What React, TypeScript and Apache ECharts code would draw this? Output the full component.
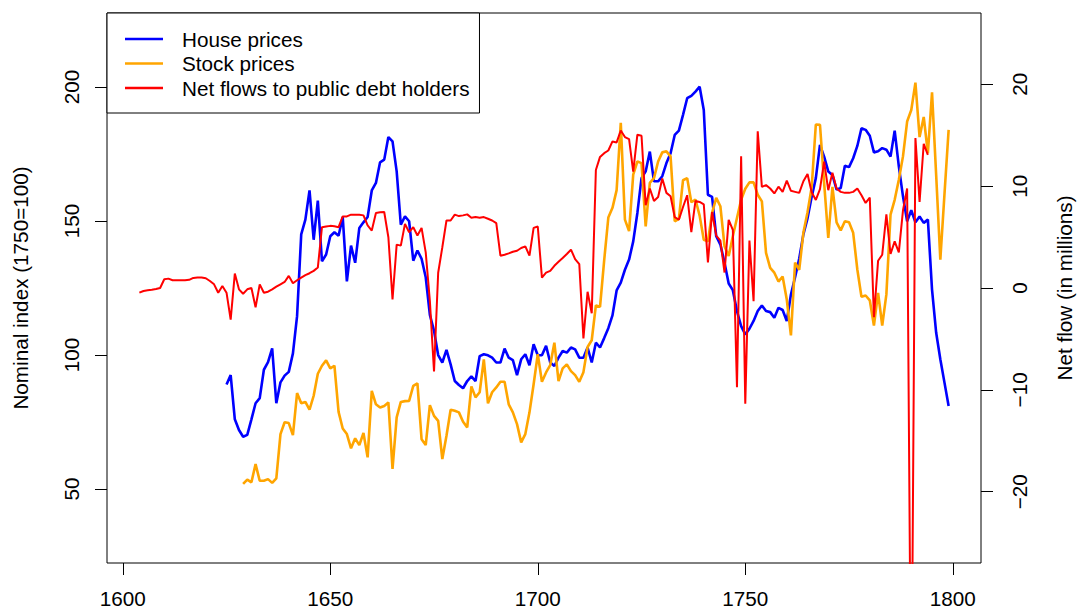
import React, { useEffect, useRef } from "react";
import * as echarts from "echarts";

const houseStart = 1625;
const housePrices = [
  89, 92.5, 76, 72, 69.5, 70.2, 76, 82, 83.9, 94.5,
  97.3, 102.5, 82, 89.8, 92.3, 93.7, 100.6, 114.5, 145, 150.5,
  161.4, 143, 157.6, 135, 137.5, 144.3, 145.8, 144.5, 151.5, 127.5,
  140.8, 134.4, 147.4, 149.5, 151.5, 161.4, 164.2, 171.9, 172.9, 181.3,
  179.7, 168.5, 148.6, 151.7, 149.9, 135.2, 139, 135.9, 129, 115,
  109, 100, 97.2, 101.9, 96.5, 90.3, 88.8, 87.6, 90.3, 92,
  90.3, 99.6, 100.3, 99.9, 99, 97.2, 97.2, 102.4, 99, 98.1,
  92.5, 98.4, 100.3, 96.2, 104, 99.9, 99.9, 103.4, 97.2, 95.9,
  99, 101.5, 100.9, 102.8, 102.1, 99, 99, 102.8, 97.2, 104.6,
  102.8, 106.3, 110, 114.8, 124.1, 127, 131.8, 135.6, 142.4, 153,
  166, 168.5, 175.9, 164.8, 164.8, 166.7, 171.6, 175.3, 182.1, 183.7,
  189.6, 195.8, 196.7, 198.3, 200.1, 191.4, 159.8, 159, 144.3, 141.2,
  134.4, 126.7, 124.2, 116.4, 110.8, 107.7, 109.8, 112.7, 116.4, 118.5,
  116.4, 116, 113.9, 117.6, 116.8, 112.7, 122.6, 129, 136, 145,
  151, 159, 166, 178.4, 174, 168.5, 167.2, 161.7, 162.3, 170.6,
  170.1, 173.4, 178, 184.6, 184, 181.8, 175.6, 176, 177.2, 176.6,
  174, 183.7, 170.4, 159.2, 149.9, 154, 149.5, 151.7, 149.3, 150.5,
  124.4, 108.3, 98.4, 89.7, 81,
];

const stockStart = 1629;
const stockPrices = [
  51.9, 53.5, 52.5, 59.3, 53.1, 53.1, 53.7, 52.3, 54, 70.5,
  74.9, 74.6, 70.1, 85.8, 82, 82.5, 79.6, 84.8, 93, 96,
  98, 95, 96, 78.8, 72.6, 70.5, 65.2, 68.9, 66.4, 70.9,
  61.8, 86.6, 81.6, 80.4, 81, 82.3, 57.5, 76.7, 82.5, 82.8,
  82.9, 88.5, 89.4, 68.6, 66.4, 81.3, 77.3, 75.4, 61.2, 69.9,
  79.6, 79.2, 78.6, 75.1, 73, 88.3, 84.2, 86.1, 98.4, 82,
  86.1, 87.9, 90, 90, 81.6, 78.6, 74.2, 67.4, 70.5, 78.6,
  89.1, 100.3, 90, 93.5, 96.2, 104.6, 90.3, 95, 96.5, 94,
  92.5, 90, 93.6, 103, 105.5, 118.5, 118, 135.3, 151.3, 154.9,
  161.5, 186.6, 150.5, 146.2, 167.3, 172.2, 171.6, 148, 164.2, 166,
  172.2, 175.6, 176, 174.1, 149.9, 150.8, 165.2, 166, 157, 158,
  152, 143, 142.4, 153, 158.6, 155.5, 140.6, 136.9, 144.3, 151.1,
  157.9, 162, 164.4, 164.4, 159.8, 157.3, 138.1, 132.5, 130.7, 127.4,
  129.3, 120.7, 107.3, 134.5, 131.8, 145.6, 153.3, 162.6, 186, 185.9,
  164.2, 143.7, 162.7, 149.5, 146.5, 149.9, 149.5, 145.6, 131.9, 121.7,
  122.2, 120.4, 111, 123.2, 111, 122.6, 152.4, 157.9, 165.4, 174.1,
  187.1, 191.4, 201.6, 181.3, 188.8, 175.3, 198, 167, 135.6, 160,
  184,
];

const flowStart = 1604;
const netFlows = [
  -0.46, -0.3, -0.23, -0.17, -0.1, 0, 0.86, 0.92, 0.76, 0.76,
  0.76, 0.76, 0.8, 0.99, 1.02, 1.02, 0.96, 0.69, 0.36, -0.46,
  0.2, -0.46, -3.1, 1.42, -0.13, -0.56, -0.13, 0, -1.9, 0.36,
  -0.46, -0.36, -0.13, 0.13, 0.36, 0.59, 1.19, 0.46, 0.76, 1.02,
  1.26, 1.45, 1.68, 2.01, 5.97, 6.04, 6.1, 6.07, 5.97, 7.03,
  7.03, 7.2, 7.2, 7.2, 7.13, 6.14, 5.64, 7.36, 7.43, 7.46,
  4.98, -1.12, 4.26, 4.16, 6.3, 5.48, 5.97, 5.15, 5.9, 3.5,
  -1.29, -8.2, 1.5, 4, 6.63, 6.63, 7.2, 7.06, 7.13, 7.23,
  6.9, 6.96, 6.9, 6.96, 6.8, 6.63, 6.37, 3.17, 3.27, 3.4,
  3.56, 3.66, 3.93, 4.09, 3.17, 5.9, 6.04, 1.02, 1.51, 1.68,
  2.18, 2.57, 2.94, 3.34, 3.76, 2.84, 2.35, -4.95, -0.37, -2.48,
  11.58, 12.87, 13.24, 13.5, 14.39, 14.29, 15.46, 14.82, 14.62, 11.42,
  15.05, 14.95, 8.12, 9.77, 8.55, 8.94, 10.76, 9.34, 9.01, 6.96,
  6.7, 7.95, 9.11, 5.48, 8.55, 8.45, 8.22, 2.5, 7.46, 5.15,
  4.65, 1.52, 6.7, 5.71, -9.75, 12.93, -11.36, 4.65, -1.29, 15.38,
  9.93, 10.1, 9.77, 9.28, 9.95, 9.44, 10.55, 9.54, 9.44, 9.34,
  10.48, 11.19, 9.4, 8.65, 9.7, 12.41, 9.6, 11.32, 9.77, 9.44,
  9.34, 9.34, 9.44, 9.77, 9.11, 8.35, 8.88, -2.87, 2.67, 3.27,
  7.23, 3.34, 4.58, 3.5, 7.62, 9.77, -45, 14.72, 8.45, 14.16,
  13.07,
];

const xTicks = [1600, 1650, 1700, 1750, 1800];
const leftTicks = [50, 100, 150, 200];
const rightTicks = [-20, -10, 0, 10, 20];

const seriesNames = ["House prices", "Stock prices", "Net flows to public debt holders"];
const seriesColors = ["#0000FF", "#FFA500", "#FF0000"];

const FONT = "'Liberation Sans', Arial, Helvetica, sans-serif";
const FS = 20.7;

function toPairs(start: number, values: number[]) {
  return values.map((v, i) => [start + i, v]);
}

export default function App() {
  const ref = useRef<HTMLDivElement>(null);
  useEffect(() => {
    if (!ref.current) return;
    const chart = echarts.init(ref.current, undefined, { renderer: "svg" });
    const minus = (v: number) => String(v).replace("-", "\u2212");
    chart.setOption({
      animation: false,
      backgroundColor: "#ffffff",
      textStyle: { fontFamily: FONT },
      grid: {
        left: 107,
        top: 13,
        width: 874,
        height: 550,
        containLabel: false,
        outerBoundsMode: "none",
        show: true,
        borderColor: "#000",
        borderWidth: 1,
        backgroundColor: "transparent",
      },
      legend: {
        orient: "vertical",
        left: 107,
        top: 13,
        padding: [13.75, 10, 12.75, 18],
        itemGap: 0,
        itemWidth: 38,
        itemHeight: 2.4,
        icon: "rect",
        backgroundColor: "#fff",
        borderColor: "#000",
        borderWidth: 1,
        borderRadius: 0,
        selectedMode: false,
        textStyle: {
          fontFamily: FONT,
          fontSize: FS,
          color: "#000",
          lineHeight: 24.5,
          padding: [0, 0, 0, 14],
        },
        data: seriesNames,
      },
      xAxis: {
        type: "value",
        min: 1596.2,
        max: 1806.8,
        axisLine: { show: false, onZero: false },
        splitLine: { show: false },
        axisTick: {
          show: true,
          length: 12,
          customValues: xTicks,
          lineStyle: { color: "#000", width: 1 },
        },
        axisLabel: {
          customValues: xTicks,
          color: "#000",
          fontFamily: FONT,
          fontSize: FS,
          margin: 25,
          formatter: (v: number) => String(v),
        },
      },
      yAxis: [
        {
          type: "value",
          position: "left",
          min: 22.4,
          max: 227.6,
          name: "Nominal index (1750=100)",
          nameLocation: "middle",
          nameRotate: 90,
          nameGap: 76,
          nameTextStyle: { color: "#000", fontFamily: FONT, fontSize: FS },
          axisLine: { show: false, onZero: false },
          splitLine: { show: false },
          axisTick: {
            show: true,
            length: 12,
            customValues: leftTicks,
            lineStyle: { color: "#000", width: 1 },
          },
          axisLabel: {
            customValues: leftTicks,
            rotate: 90,
            color: "#000",
            fontFamily: FONT,
            fontSize: FS,
            margin: 25,
            formatter: (v: number) => String(v),
          },
        },
        {
          type: "value",
          position: "right",
          min: -27,
          max: 27,
          name: "Net flow (in millions)",
          nameLocation: "middle",
          nameRotate: 90,
          nameGap: 73,
          nameTextStyle: { color: "#000", fontFamily: FONT, fontSize: FS },
          axisLine: { show: false, onZero: false },
          splitLine: { show: false },
          axisTick: {
            show: true,
            length: 12,
            customValues: rightTicks,
            lineStyle: { color: "#000", width: 1 },
          },
          axisLabel: {
            customValues: rightTicks,
            rotate: 90,
            color: "#000",
            fontFamily: FONT,
            fontSize: FS,
            margin: 28,
            formatter: (v: number) => minus(v),
          },
        },
      ],
      series: [
        {
          name: seriesNames[0],
          type: "line",
          yAxisIndex: 0,
          data: toPairs(houseStart, housePrices),
          showSymbol: false,
          symbol: "none",
          color: seriesColors[0],
          lineStyle: { color: seriesColors[0], width: 2.6 },
          clip: true,
        },
        {
          name: seriesNames[1],
          type: "line",
          yAxisIndex: 0,
          data: toPairs(stockStart, stockPrices),
          showSymbol: false,
          symbol: "none",
          color: seriesColors[1],
          lineStyle: { color: seriesColors[1], width: 2.6 },
          clip: true,
        },
        {
          name: seriesNames[2],
          type: "line",
          yAxisIndex: 1,
          data: toPairs(flowStart, netFlows),
          showSymbol: false,
          symbol: "none",
          color: seriesColors[2],
          lineStyle: { color: seriesColors[2], width: 2 },
          clip: true,
        },
      ],
    });
    return () => chart.dispose();
  }, []);
  return (
    <div
      ref={ref}
      style={{ position: "absolute", left: 0, top: 0, width: 1079, height: 610 }}
    />
  );
}
